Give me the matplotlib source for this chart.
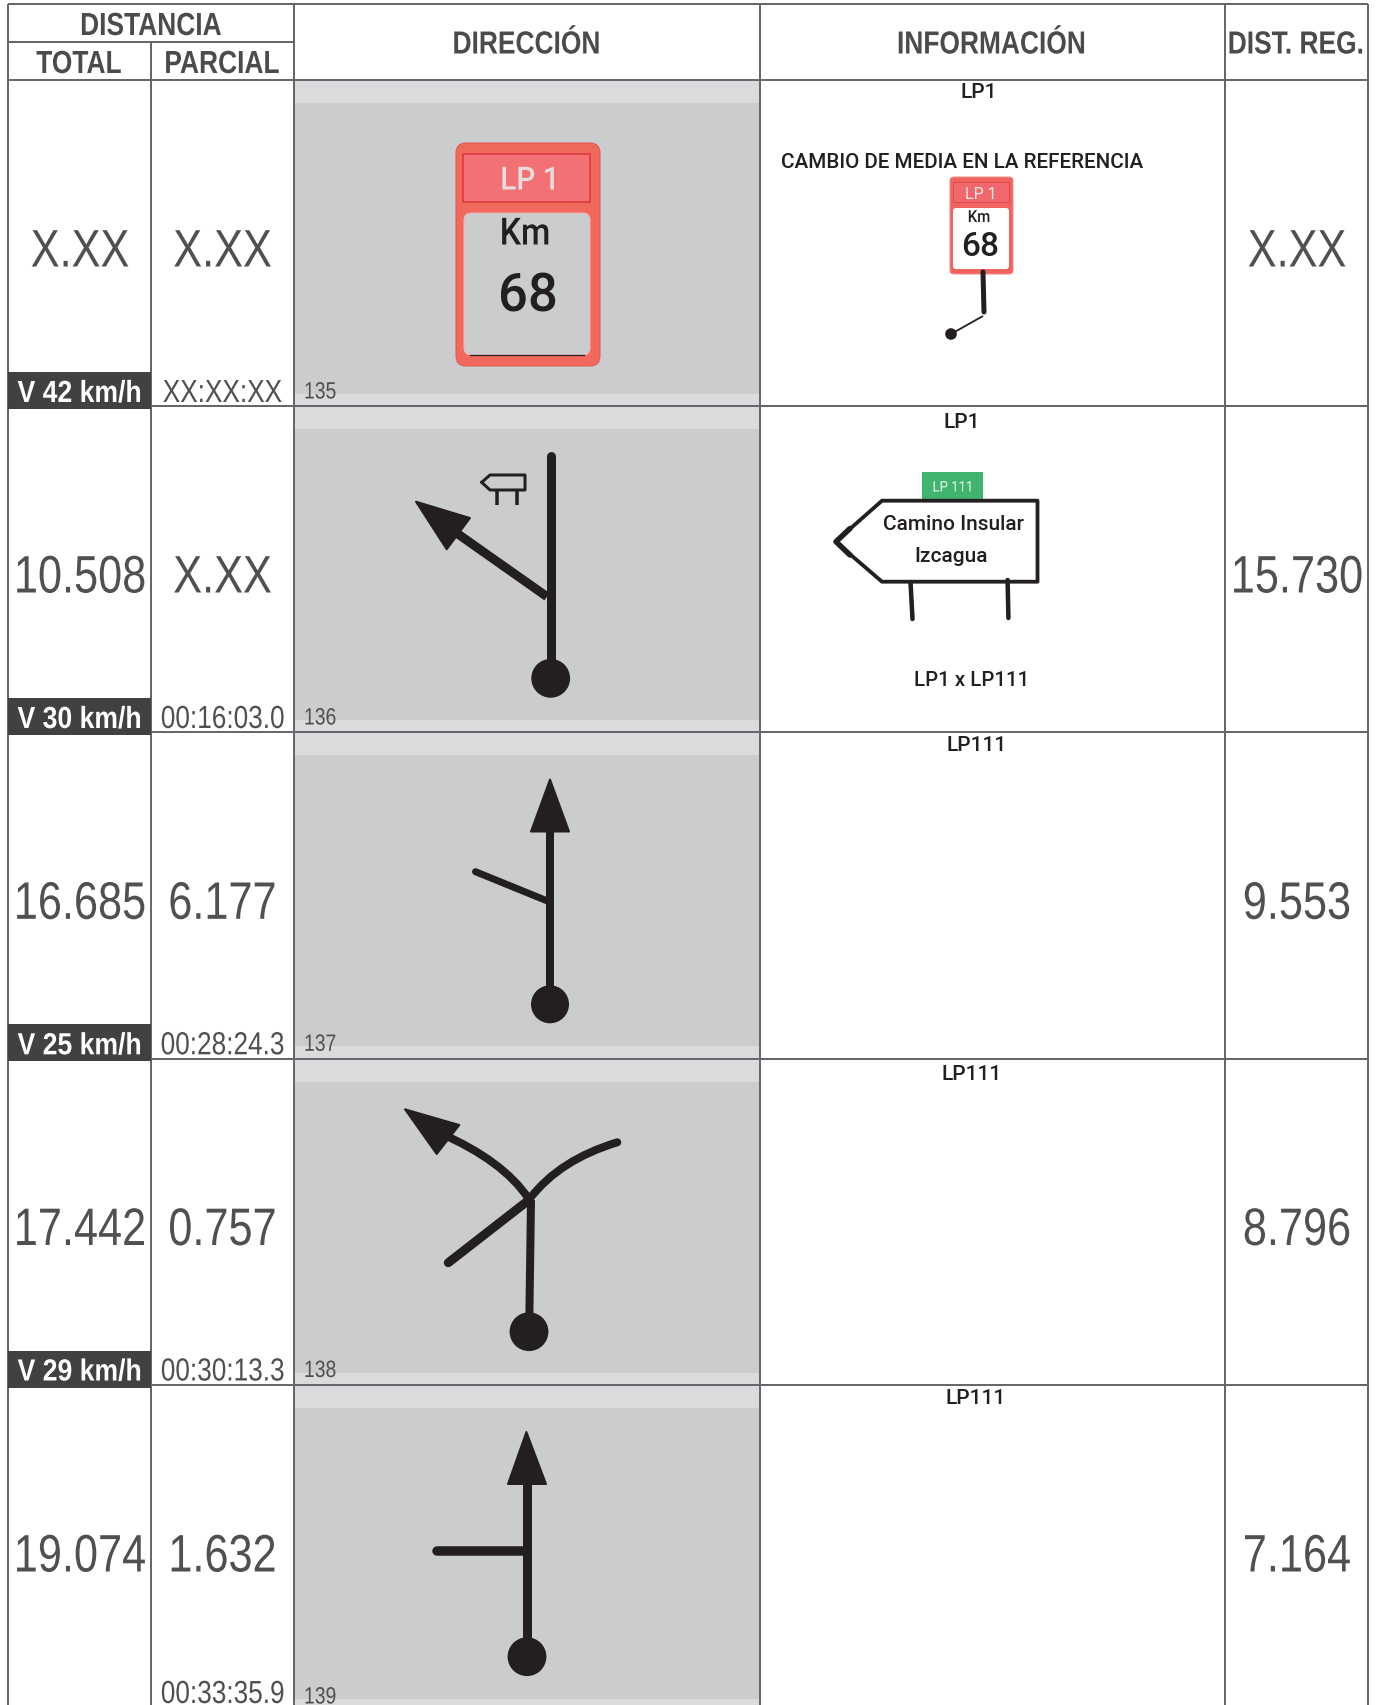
import matplotlib
matplotlib.use("Agg")
import matplotlib.pyplot as plt
from matplotlib.patches import Rectangle, FancyBboxPatch, Polygon, Circle, PathPatch
from matplotlib.path import Path
from matplotlib.patheffects import AbstractPathEffect
from matplotlib.transforms import Affine2D

NARROW = ["Liberation Sans", "DejaVu Sans"]
ROBOTO = ["Roboto", "DejaVu Sans"]

# ---- table contents ----
total_km = ["X.XX", "10.508", "16.685", "17.442", "19.074"]
parcial_km = ["X.XX", "X.XX", "6.177", "0.757", "1.632"]
dist_reg = ["X.XX", "15.730", "9.553", "8.796", "7.164"]
velocidad = ["V 42 km/h", "V 30 km/h", "V 25 km/h", "V 29 km/h", None]
tiempo = ["XX:XX:XX", "00:16:03.0", "00:28:24.3", "00:30:13.3", "00:33:35.9"]
tiempo_dy = [311, 311, 311, 311, 307]
casilla = ["135", "136", "137", "138", "139"]
ruta = ["LP1", "LP1", "LP111", "LP111", "LP111"]
ruta_x = [978.5, 962, 976.5, 972, 975.5]
ruta_y = [91, 420, 743.5, 1072.5, 1396.5]

# ---- grid ----
col_x = [7.5, 151, 294, 759.5, 1225, 1368]
row_y = [80, 406, 732.3, 1058.5, 1385]
W, H = 1376, 1705
LINE = "#66676a"
NUM = "#4f5052"
HEAD = "#4a4b4d"
INK = "#231f20"

fig = plt.figure(figsize=(W / 100, H / 100), dpi=100, facecolor="white")
ax = fig.add_axes([0, 0, 1, 1])
ax.set_xlim(0, W)
ax.set_ylim(H, 0)
ax.axis("off")


class Squeeze(AbstractPathEffect):
    """Condense the glyphs horizontally about a pixel column; the text stays a text."""

    def __init__(self, sx, cx):
        super().__init__()
        self.sx, self.cx = sx, cx

    def draw_path(self, renderer, gc, tpath, affine, rgbFace=None):
        a = affine + Affine2D().translate(-self.cx, 0).scale(self.sx, 1).translate(self.cx, 0)
        renderer.draw_path(gc, tpath, a, rgbFace)


def px(v):
    return v * 0.72


def rbox(x0, y0, x1, y1, r, fc, ec="none", lw=0, z=3):
    ax.add_patch(FancyBboxPatch((x0 + r, y0 + r), x1 - x0 - 2 * r, y1 - y0 - 2 * r,
                                boxstyle=f"round,pad={r},rounding_size={r}",
                                fc=fc, ec=ec, lw=px(lw), zorder=z))


def T(x, y, s, size, color=NUM, weight="normal", fam=NARROW, ha="center", z=6, sx=0.82):
    t = ax.text(x, y, s, fontsize=size, color=color, fontweight=weight, family=fam,
                ha=ha, va="center_baseline", zorder=z)
    if sx != 1:
        t.set_path_effects([Squeeze(sx, x)])
    return t


def R(x, y, s, size, color=INK, weight="medium", sx=1):
    return T(x, y, s, size, color, weight, ROBOTO, sx=sx)


def seg(pts, w, color=INK, cap="round", z=4):
    ax.plot([p[0] for p in pts], [p[1] for p in pts], color=color, lw=px(w),
            solid_capstyle=cap, solid_joinstyle="round", zorder=z)


def tri(pts, z=4):
    ax.add_patch(Polygon(pts, closed=True, fc=INK, ec=INK, lw=px(2), joinstyle="round", zorder=z))


def dot(x, y, r=19.4):
    ax.add_patch(Circle((x, y), r, fc=INK, ec="none", zorder=4))


def curve(p0, p1, p2, w):
    ax.add_patch(PathPatch(Path([p0, p1, p2], [Path.MOVETO, Path.CURVE3, Path.CURVE3]), fc="none",
                           ec=INK, lw=px(w), capstyle="round", zorder=4))


# gray direction panels
for top in row_y:
    ax.add_patch(Rectangle((col_x[2], top), col_x[3] - col_x[2], 326.5, fc="#dadbdd", ec="none", zorder=1))
    ax.add_patch(Rectangle((col_x[2], top + 23), col_x[3] - col_x[2], 291, fc="#cbccce", ec="none", zorder=1))

# grid lines
for x in col_x:
    y0 = 42 if x == col_x[1] else 4
    ax.plot([x, x], [y0, H], color=LINE, lw=px(2), solid_capstyle="butt", zorder=2)
for y in [4, 80] + row_y[1:]:
    ax.plot([col_x[0], col_x[-1]], [y, y], color=LINE, lw=px(2), solid_capstyle="butt", zorder=2)
ax.plot([col_x[0], col_x[2]], [42, 42], color=LINE, lw=px(2), solid_capstyle="butt", zorder=2)

# headers
HS = 0.825
T(151, 23.5, "DISTANCIA", 23, HEAD, "bold", sx=HS)
T(79, 61.5, "TOTAL", 23, HEAD, "bold", sx=HS)
T(222, 61.5, "PARCIAL", 23, HEAD, "bold", sx=HS)
T(526.5, 42, "DIRECCIÓN", 23, HEAD, "bold", sx=HS)
T(991.5, 42, "INFORMACIÓN", 23, HEAD, "bold", sx=HS)
T(1296, 42, "DIST. REG.", 23, HEAD, "bold", sx=HS)

# row cells
for i, top in enumerate(row_y):
    T(80, top + 167, total_km[i], 38)
    T(222.5, top + 167, parcial_km[i], 38)
    T(1297, top + 167, dist_reg[i], 38)
    if velocidad[i]:
        ax.add_patch(Rectangle((col_x[0], top + 292), col_x[1] - col_x[0], 37, fc="#414042", ec="none", zorder=5))
        T(79.5, top + 310.5, velocidad[i], 22, "white", "bold", sx=0.87)
    T(222.5, top + tiempo_dy[i] - 0.5, tiempo[i], 23)
    T(304, top + 310, casilla[i], 17, ha="left")
    R(ruta_x[i], ruta_y[i], ruta[i], 15)

# row 1: kilometre sign
rbox(456, 143, 600, 366, 10, "#f0695c", "#e4574f", 1)
ax.add_patch(Rectangle((463, 154), 127, 48, fc="#f17175", ec="#d8353d", lw=px(1.5), zorder=4))
rbox(464, 213, 590, 355, 7, "#cbccce", "#f5b3ac", 1, z=4)
ax.plot([470, 584], [355, 355], color=INK, lw=px(1.2), zorder=5)
R(530, 178, "LP 1", 23, "#e6dcdc", sx=0.93)
R(525, 230, "Km", 27, sx=0.9)
R(528, 292, "68", 38)

# row 1: information
R(962, 161, "CAMBIO DE MEDIA EN LA REFERENCIA", 14.9)
rbox(950, 177, 1013, 274, 4, "#f0645f", "#f28a85", 1)
ax.add_patch(Rectangle((952.5, 182), 56.5, 20, fc="#f0686b", ec="#e2474d", lw=px(1), zorder=4))
rbox(953, 208, 1009, 269, 3, "white", z=4)
R(981, 193, "LP 1", 11.5, "#fbeaea", "normal")
R(979, 216, "Km", 12, sx=0.9)
R(980.5, 243, "68", 24)
seg([(983, 272), (984, 312)], 5)
seg([(983, 316), (951, 334)], 1.8, cap="butt")
ax.add_patch(Circle((951, 334), 5.8, fc=INK, ec="none", zorder=4))

# row 2: direction
seg([(550.7, 456), (550.7, 678)], 9)
dot(550.7, 678.3)
seg([(547, 596.7), (448, 527)], 9, cap="butt")
tri([(416, 501.7), (470, 518), (446.7, 549.3)])
seg([(481.7, 482.3), (490, 475), (525, 475), (525, 490), (490, 490), (481.7, 482.3)], 3)
seg([(496.7, 490), (496.7, 505)], 3.5, cap="butt")
seg([(516.7, 490), (516.7, 505)], 3.5, cap="butt")

# row 2: information
ax.add_patch(Rectangle((922, 472), 61, 28, fc="#41b56f", ec="none", zorder=3))
R(953, 486, "LP 111", 10.5, "#e9f7ee", "normal", sx=0.9)
ax.add_patch(Polygon([(882, 500.7), (1037.5, 500.7), (1037.5, 581.7), (882, 581.7), (835.5, 541.7)],
                     closed=True, fc="white", ec=INK, lw=px(3.8), joinstyle="round", zorder=4))
seg([(850, 528.5), (836, 541.7), (850, 555)], 5.5, z=5)
R(953.5, 522, "Camino Insular", 15)
R(951.5, 555, "Izcagua", 15)
seg([(910.5, 582), (912.5, 619)], 4.5)
seg([(1007.6, 580), (1008.4, 618)], 4.5)
R(971.5, 678, "LP1 x LP111", 14.7)

# row 3: direction
seg([(550, 826), (550, 1004)], 8, cap="butt")
dot(550, 1004.3, 19)
tri([(550, 779.5), (531, 831.5), (569, 831.5)])
seg([(546.7, 900.7), (475.5, 871.7)], 7)

# row 4: direction
seg([(531, 1200), (529.3, 1320)], 8, cap="butt")
dot(529, 1331.7)
curve((440, 1133), (503.4, 1160.8), (528.3, 1198.3), 8)
tri([(405, 1109.3), (459.3, 1125), (436.7, 1154)])
curve((530, 1198.3), (559.8, 1159.7), (617.3, 1142.3), 8)
seg([(526.7, 1201.7), (448.3, 1262.7)], 9)

# row 5: direction
seg([(527, 1483), (527, 1657)], 9, cap="butt")
dot(527, 1656.7)
tri([(526.4, 1432), (508, 1484), (546, 1484)])
seg([(527, 1551), (437, 1551)], 9.5)

fig.savefig("out.png", dpi=100, facecolor="white")
